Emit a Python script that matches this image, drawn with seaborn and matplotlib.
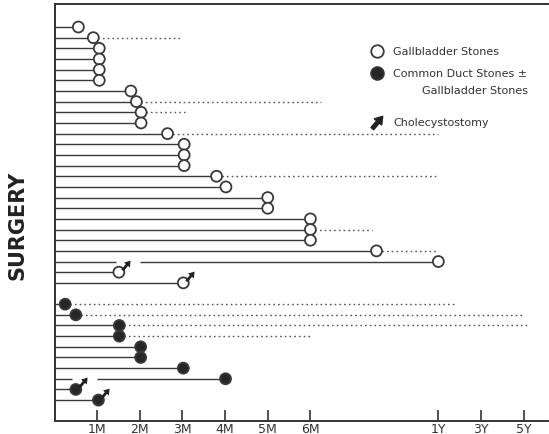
import numpy as np
import pandas as pd
import matplotlib
matplotlib.use("Agg")
import matplotlib.pyplot as plt
import seaborn as sns
from matplotlib.path import Path
from matplotlib.transforms import offset_copy

# rows are counted from the top; values are months until surgery
gb_rows = list(range(25))
gb_months = [0.56, 0.91, 1.05, 1.05, 1.05, 1.05, 1.79, 1.92, 2.03, 2.03,
             2.65, 3.04, 3.04, 3.04, 3.80, 4.02, 5.0, 5.0, 6.0, 6.0,
             6.0, 9.1, 12.0, 1.51, 3.02]
cd_rows = list(range(26, 36))
cd_months = [0.25, 0.50, 1.52, 1.52, 2.02, 2.02, 3.02, 4.01, 0.50, 1.03]

# dotted follow-up after the marker
fu_rows = [1, 7, 8, 10, 14, 19, 21, 26, 27, 28, 29]
fu_end = [3.0, 6.5, 3.05, 12, 12, 8.9, 12, 21, 59, 62, 6.0]

# cholecystostomy marks and the lines broken around them
chole_rows = [23, 24, 34, 35]
break_rows = [22, 33]
break_from = [1.44, 0.41]
break_to = [2.0, 1.0]

tick_months = [1, 2, 3, 4, 5, 6, 12, 36, 60]
tick_labels = ["1M", "2M", "3M", "4M", "5M", "6M", "1Y", "3Y", "5Y"]

df = pd.DataFrame({
    "row": gb_rows + cd_rows,
    "month": gb_months + cd_months,
    "kind": ["gb"] * len(gb_rows) + ["cd"] * len(cd_rows),
})
month_of = dict(zip(df["row"], df["month"]))

sns.set_style("white")
plt.rcParams["font.family"] = ["DejaVu Sans"]

fig = plt.figure(figsize=(5.49, 4.35), dpi=100)
ax = fig.add_axes([54.5 / 549, 13 / 435, 493.5 / 549, 417 / 435])

src = [0, 6, 12, 36, 60, 84]
dst = [0, 6, 9, 10, 11, 12]
ax.set_xscale("function", functions=(lambda m: np.interp(m, src, dst),
                                     lambda p: np.interp(p, dst, src)))

ink = "#3a3a3a"
for r, m in zip(df["row"], df["month"]):
    if r in break_rows:
        i = break_rows.index(r)
        ax.hlines(r, 0, break_from[i], color=ink, lw=1.0)
        ax.hlines(r, break_to[i], m, color=ink, lw=1.0)
    else:
        ax.hlines(r, 0, m, color=ink, lw=1.0)

for r, e in zip(fu_rows, fu_end):
    ax.hlines(r, month_of[r], e, color="#555555", lw=1.0, linestyles=(0, (1.2, 2.2)))

sns.scatterplot(data=df, x="month", y="row", hue="kind",
                palette={"gb": "white", "cd": "#262626"},
                edgecolor=ink, linewidth=1.3, s=62, legend=False, zorder=3, ax=ax)

arrow = np.array([(-1, -0.22), (0.1, -0.22), (0.1, -0.6), (1, 0), (0.1, 0.6),
                  (0.1, 0.22), (-1, 0.22), (-1, -0.22)])
th = np.deg2rad(50)
arrow = arrow @ np.array([[np.cos(th), np.sin(th)], [-np.sin(th), np.cos(th)]])
codes = [Path.MOVETO] + [Path.LINETO] * 6 + [Path.CLOSEPOLY]
arrow_marker = Path(arrow, codes)

off = offset_copy(ax.transData, fig=fig, x=7, y=7, units="dots")
ax.scatter([month_of[r] for r in chole_rows], chole_rows, marker=arrow_marker,
           s=70, color="#222222", transform=off, zorder=4, linewidths=0)

ax.set_xlim(0, 73.7)
ax.set_ylim(36.96, -2.16)
ax.set_xticks(tick_months)
ax.set_xticklabels(tick_labels)
ax.set_yticks([])
ax.set_xlabel("")
ax.set_ylabel("")
ax.tick_params(axis="x", direction="in", length=8, width=1.2, pad=0.5,
               labelsize=9, colors="#333333", bottom=True)
for side in ["left", "top", "bottom"]:
    ax.spines[side].set_color("#333333")
    ax.spines[side].set_linewidth(1.4)
ax.spines["right"].set_visible(False)

# legend
tr = ax.transAxes
ax.plot([0.653], [0.887], "o", ms=9, mfc="white", mec=ink, mew=1.3, transform=tr, clip_on=False)
ax.plot([0.653], [0.835], "o", ms=9.5, mfc="#262626", mec=ink, mew=1.0, transform=tr, clip_on=False)
ax.scatter([0.653], [0.717], marker=arrow_marker, s=110, color="#222222", transform=tr)
tk = dict(transform=tr, fontsize=8, color="#333333", va="center", ha="left")
ax.text(0.686, 0.887, "Gallbladder Stones", **tk)
ax.text(0.686, 0.835, "Common Duct Stones \u00b1", **tk)
ax.text(0.745, 0.794, "Gallbladder Stones", **tk)
ax.text(0.686, 0.717, "Cholecystostomy", **tk)

fig.text(18 / 549, 1 - 225 / 435, "SURGERY", rotation=90, ha="center", va="center",
         fontsize=15, fontweight="bold", color="#222222",
         family=["Liberation Sans Narrow", "DejaVu Sans"])

fig.savefig("out.png", dpi=100, facecolor="white")
